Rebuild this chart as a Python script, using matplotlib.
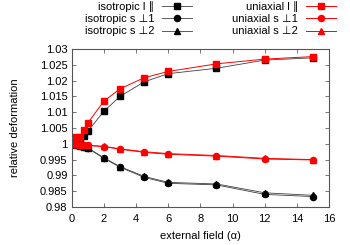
import matplotlib
matplotlib.use("Agg")
import matplotlib.pyplot as plt

plt.rcParams['font.family'] = ['Liberation Sans', 'DejaVu Sans']
plt.rcParams['font.size'] = 8.0

# external field values
field = [0, 0.25, 0.5, 0.75, 1, 2, 3, 4.5, 6, 9, 12, 15]

iso_par = [1.0, 1.0005, 1.0012, 1.0024, 1.0040, 1.0103, 1.0150, 1.0196, 1.0222, 1.0239, 1.0265, 1.0272]
iso_perp1 = [1.0, 0.9997, 0.9993, 0.9989, 0.9986, 0.9954, 0.9926, 0.9894, 0.9875, 0.9870, 0.9840, 0.9833]
iso_perp2 = [1.0, 0.9997, 0.9994, 0.9990, 0.9987, 0.9956, 0.9928, 0.9897, 0.9878, 0.9873, 0.9845, 0.9837]
uni_par = [1.0, 1.0022, 1.0022, 1.0043, 1.0066, 1.0135, 1.0174, 1.0209, 1.0229, 1.0253, 1.0268, 1.0276]
uni_perp1 = [1.0, 0.9998, 0.9997, 0.9996, 0.9995, 0.9991, 0.9983, 0.9973, 0.9967, 0.9961, 0.9952, 0.9949]
uni_perp2 = [1.0, 0.9998, 0.9997, 0.9996, 0.9995, 0.9992, 0.9984, 0.9975, 0.9969, 0.9963, 0.9954, 0.9950]

labels = ["isotropic l \u2225", "isotropic s \u22a51", "isotropic s \u22a52",
          "uniaxial l \u2225", "uniaxial s \u22a51", "uniaxial s \u22a52"]

fig = plt.figure(figsize=(3.5, 2.45), dpi=100)
ax = fig.add_axes([0.205, 0.155, 0.735, 0.645])

grey = '#404040'
ax.plot(field, iso_par, color=grey, lw=0.6, marker='s', ms=4.6, mfc='black', mec='black', label=labels[0])
ax.plot(field, iso_perp1, color=grey, lw=0.6, marker='o', ms=4.4, mfc='black', mec='black', label=labels[1])
ax.plot(field, iso_perp2, color=grey, lw=0.6, marker='^', ms=4.0, mfc='black', mec='black', label=labels[2])
ax.plot(field, uni_par, color='red', lw=0.7, marker='s', ms=4.6, label=labels[3])
ax.plot(field, uni_perp1, color='red', lw=0.7, marker='o', ms=4.4, label=labels[4])
ax.plot(field, uni_perp2, color='red', lw=0.7, marker='^', ms=4.0, label=labels[5])

ax.set_xlim(0, 16)
ax.set_ylim(0.98, 1.03)
ax.set_xticks(range(0, 17, 2))
ax.set_yticks([0.98, 0.985, 0.99, 0.995, 1.0, 1.005, 1.01, 1.015, 1.02, 1.025, 1.03])
ax.set_yticklabels(['0.98', '0.985', '0.99', '0.995', '1', '1.005', '1.01',
                    '1.015', '1.02', '1.025', '1.03'])
ax.tick_params(direction='in', top=True, right=True, length=3, width=0.5,
               color=grey, labelsize=8.0)
ax.tick_params(axis='x', pad=5)
ax.tick_params(axis='y', pad=3)
for sp in ax.spines.values():
    sp.set_linewidth(0.8)
    sp.set_color('#555555')

ax.set_xlabel("external field (\u03b1)", fontsize=8.0, labelpad=5)
ax.set_ylabel("relative deformation", fontsize=8.0, labelpad=14)

ax.legend(ncol=2, loc='upper right', bbox_to_anchor=(0.963, 1.0),
          bbox_transform=fig.transFigure, frameon=False, markerfirst=False,
          handlelength=2.7, handletextpad=0.7, columnspacing=3.6,
          labelspacing=0.2, borderpad=0.1, borderaxespad=0, fontsize=8.0)

fig.savefig("out.png", dpi=100)
